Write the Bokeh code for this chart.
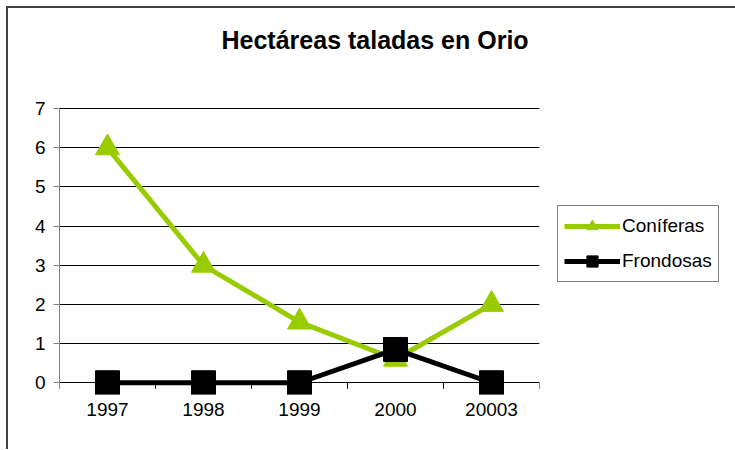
from bokeh.plotting import figure
from bokeh.models import FixedTicker, Legend, LegendItem, Title
from bokeh.embed import file_html
from bokeh.resources import INLINE

# Data
years = ["1997", "1998", "1999", "2000", "20003"]
coniferas = [6, 3, 1.55, 0.6, 2]
frondosas = [0, 0, 0, 0.85, 0]
y_ticks = [0, 1, 2, 3, 4, 5, 6, 7]

FONT = "Liberation Sans"
GREEN = "#99CC00"

xs = list(range(len(years)))
bounds_x = [i - 0.5 for i in range(len(years) + 1)]

p = figure(frame_width=480, frame_height=287, output_backend="svg", toolbar_location=None,
           x_range=(-0.5, len(years) - 0.5), y_range=(-0.3, 7.03),
           min_border_left=51, min_border_top=99, min_border_right=195, min_border_bottom=55)
p.styles = {"margin-left": "6px", "margin-top": "6px",
            "border-top": "2px solid #404040", "border-left": "2px solid #404040"}
p.outline_line_color = None
p.background_fill_color = "white"
p.border_fill_color = "white"

p.title = None
# spacer between frame and title (closest to the frame)
p.add_layout(Title(text=" ", text_font=FONT, text_font_size="34px", standoff=0), "above")
p.add_layout(Title(text="Hectáreas taladas en Orio", text_font=FONT, text_font_size="25px",
                   text_font_style="bold", text_color="black", align="left", offset=162,
                   vertical_align="bottom", standoff=28), "above")

# grids
p.xgrid.grid_line_color = None
p.ygrid.grid_line_color = "black"
p.ygrid.grid_line_width = 1
p.ygrid.ticker = FixedTicker(ticks=y_ticks)

# y axis
p.yaxis.ticker = FixedTicker(ticks=y_ticks)
p.yaxis.bounds = (-0.13, 7)
p.yaxis.axis_line_color = "#808080"
p.yaxis.major_tick_line_color = "#808080"
p.yaxis.major_tick_out = 6
p.yaxis.major_tick_in = 0
p.yaxis.minor_tick_line_color = None
p.yaxis.major_label_text_font = FONT
p.yaxis.major_label_text_font_size = "19px"
p.yaxis.major_label_text_color = "black"
p.yaxis.major_label_standoff = 8

# x axis: labels only (the zero grid line acts as the axis line)
p.xaxis.ticker = FixedTicker(ticks=xs)
p.xaxis.major_label_overrides = {i: y for i, y in zip(xs, years)}
p.xaxis.axis_line_color = None
p.xaxis.major_tick_line_color = None
p.xaxis.major_tick_out = 0
p.xaxis.major_tick_in = 0
p.xaxis.minor_tick_line_color = None
p.xaxis.major_label_text_font = FONT
p.xaxis.major_label_text_font_size = "19px"
p.xaxis.major_label_text_color = "black"
p.xaxis.major_label_standoff = 8

# tick marks between categories, hanging below the zero line
p.segment(x0=bounds_x, y0=[0] * len(bounds_x), x1=bounds_x, y1=[-0.153] * len(bounds_x),
          line_color="black", line_width=1)

# series
l1 = p.line(xs, coniferas, line_color=GREEN, line_width=5)
m1 = p.scatter(xs, coniferas, marker="triangle", size=24, fill_color=GREEN, line_color=GREEN)
l2 = p.line(xs, frondosas, line_color="black", line_width=5)
m2 = p.scatter(xs, frondosas, marker="square", size=24, fill_color="black", line_color="black")

legend = Legend(items=[LegendItem(label="Coníferas", renderers=[l1, m1]),
                       LegendItem(label="Frondosas", renderers=[l2, m2])],
                location=(18, 112))
legend.label_text_font = FONT
legend.label_text_font_size = "19px"
legend.label_text_color = "black"
legend.border_line_color = "black"
legend.border_line_width = 1
legend.padding = 6
legend.margin = 0
legend.spacing = 7
legend.glyph_width = 56
legend.glyph_height = 28
legend.label_standoff = 2
legend.background_fill_alpha = 1
p.add_layout(legend, "right")

open("out.html", "w").write(file_html(p, INLINE))
